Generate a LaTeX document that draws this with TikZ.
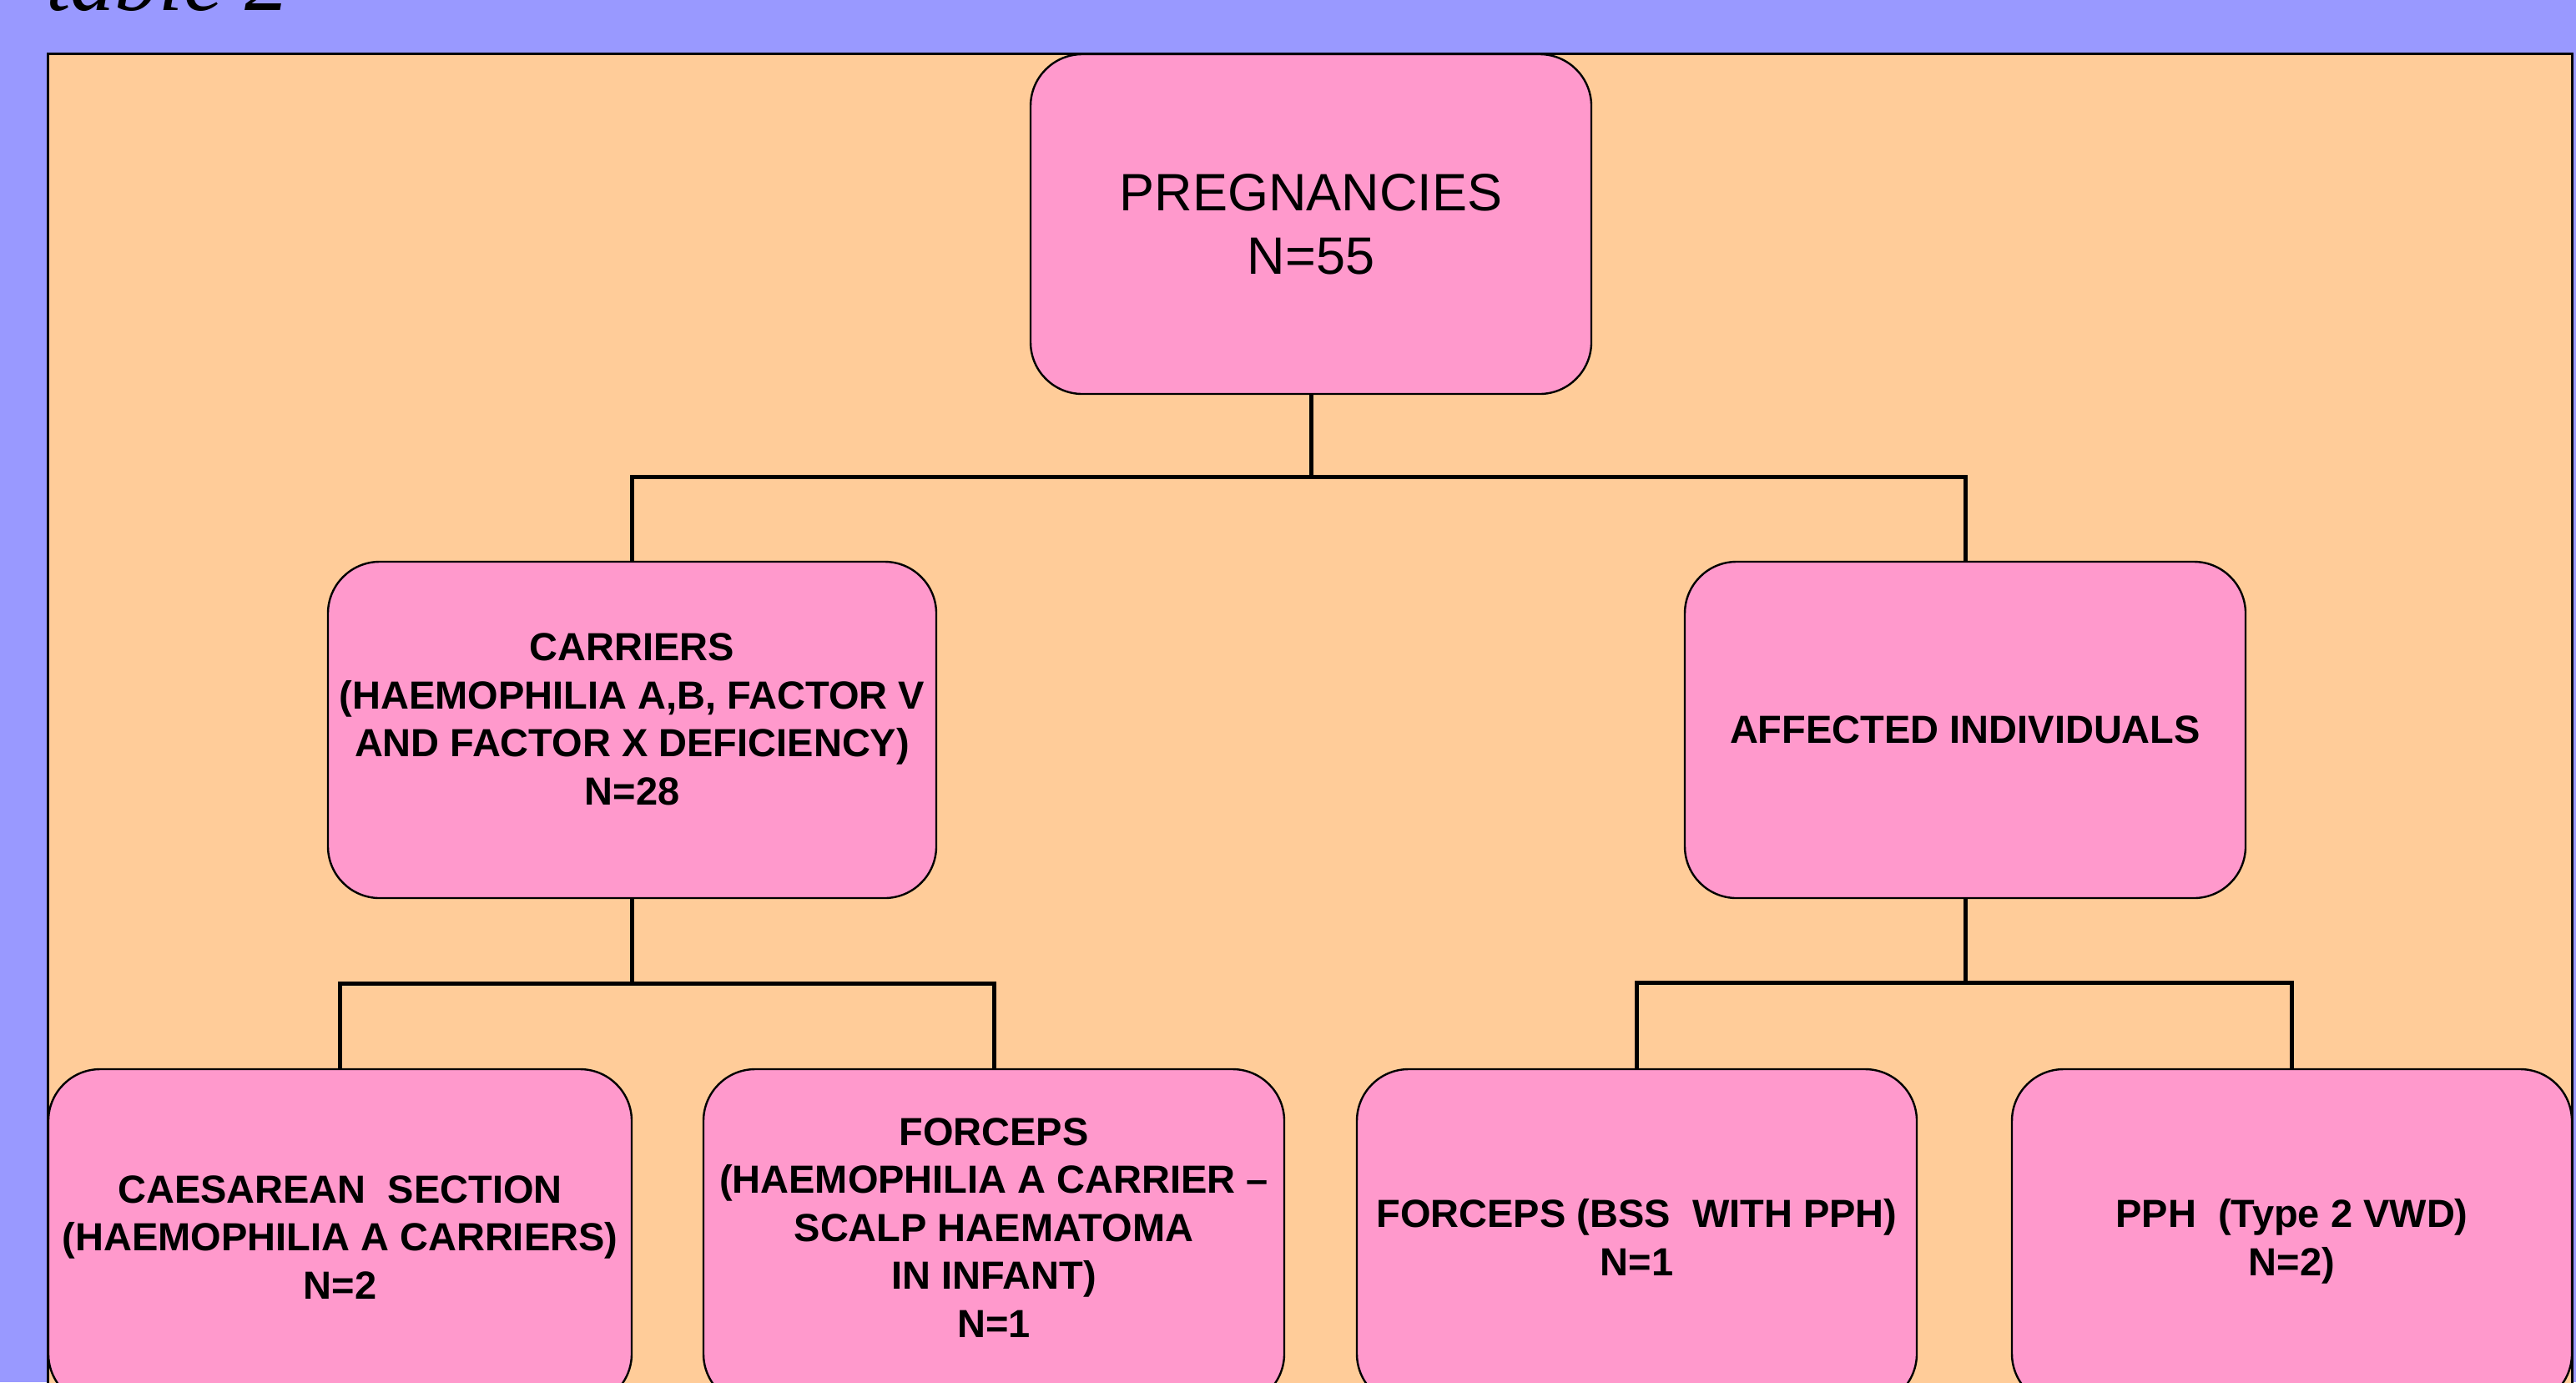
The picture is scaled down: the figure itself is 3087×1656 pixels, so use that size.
\documentclass[tikz,border=0pt]{standalone}
\usepackage{fontspec}
\setmainfont{Liberation Sans}
\newfontfamily\titlefont{Liberation Serif}
\definecolor{bgblue}{HTML}{9999FF}
\definecolor{panelorange}{HTML}{FFCC99}
\definecolor{boxpink}{HTML}{FF99CC}
\begin{document}
\begin{tikzpicture}[x=0.5pt,y=-0.5pt,
  box/.style={draw=black, line width=1.2pt, fill=boxpink, rounded corners=31pt,
    align=center, inner sep=0pt},
  conn/.style={draw=black, line width=2.5pt},
  bigtxt/.style={font=\fontsize{31.5}{38}\selectfont},
  smalltxt/.style={font=\bfseries\fontsize{23.5}{28.75}\selectfont},
  midbox/.style={minimum height=201.5pt},
  lowbox/.style={minimum height=201.5pt}]
\useasboundingbox (0,0) rectangle (3087,1656);
\clip (0,0) rectangle (3087,1656);
% background and panel
\fill[bgblue] (0,0) rectangle (3087,1656);
\path[fill=panelorange, draw=black, line width=1.5pt] (57,64) rectangle (3082,1760);
\node[anchor=base west, inner sep=0pt, font=\titlefont\itshape\fontsize{53}{60}\selectfont] (title) at (55,12.5) {table 2};
% boxes
\node[box, bigtxt, minimum width=336pt, minimum height=203.5pt] (top) at (1571,268.5) {PREGNANCIES\\N=55};
\node[box, smalltxt, midbox, minimum width=364.5pt, text depth=13pt] (carr) at (757.5,874.5)
  {CARRIERS\\(HAEMOPHILIA A,B, FACTOR V\\AND FACTOR X DEFICIENCY)\\N=28};
\node[box, smalltxt, midbox, minimum width=336pt] (aff) at (2355,874.5) {AFFECTED INDIVIDUALS};
\node[box, smalltxt, lowbox, minimum width=349.5pt] (b1) at (407.5,1482.5)
  {CAESAREAN\ \ SECTION\\(HAEMOPHILIA A CARRIERS)\\N=2};
\node[box, smalltxt, lowbox, minimum width=348pt, text depth=11.5pt] (b2) at (1191,1482.5)
  {FORCEPS\\(HAEMOPHILIA A CARRIER –\\SCALP HAEMATOMA\\IN INFANT)\\N=1};
\node[box, smalltxt, lowbox, minimum width=335.5pt] (b3) at (1961.5,1482.5)
  {FORCEPS (BSS\ \ WITH PPH)\\N=1};
\node[box, smalltxt, lowbox, minimum width=335.5pt, text depth=0pt] (b4) at (2746.5,1482.5)
  {PPH\ \ (Type 2 VWD)\\N=2)};
% junctions
\coordinate (j1) at (1571,571);
\coordinate (j2) at (757.5,1178);
\coordinate (j3) at (2355,1177);
% connectors
\draw[conn] (top.south) -- (j1);
\draw[conn] (carr.north) |- (j1) -| (aff.north);
\draw[conn] (carr.south) -- (j2);
\draw[conn] (b1.north) |- (j2) -| (b2.north);
\draw[conn] (aff.south) -- (j3);
\draw[conn] (b3.north) |- (j3) -| (b4.north);
\end{tikzpicture}
\end{document}
